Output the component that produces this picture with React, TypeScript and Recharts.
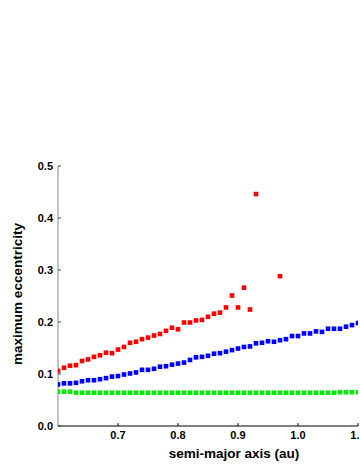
import React from 'react';
import { ScatterChart, Scatter, XAxis, YAxis } from 'recharts';

const axisA: number[] = [
  0.60, 0.61, 0.62, 0.63, 0.64, 0.65, 0.66, 0.67, 0.68, 0.69,
  0.70, 0.71, 0.72, 0.73, 0.74, 0.75, 0.76, 0.77, 0.78, 0.79,
  0.80, 0.81, 0.82, 0.83, 0.84, 0.85, 0.86, 0.87, 0.88, 0.89,
  0.90, 0.91, 0.92, 0.93, 0.94, 0.95, 0.96, 0.97, 0.98, 0.99,
  1.00, 1.01, 1.02, 1.03, 1.04, 1.05, 1.06, 1.07, 1.08, 1.09, 1.10,
];

const redA: number[] = [
  0.60, 0.61, 0.62, 0.63, 0.64, 0.65, 0.66, 0.67, 0.68, 0.69,
  0.70, 0.71, 0.72, 0.73, 0.74, 0.75, 0.76, 0.77, 0.78, 0.79,
  0.80, 0.81, 0.82, 0.83, 0.84, 0.85, 0.86, 0.87, 0.88, 0.89,
  0.90, 0.91, 0.92, 0.93, 0.97,
];
const redE: number[] = [
  0.106, 0.112, 0.116, 0.117, 0.125, 0.128, 0.133, 0.136, 0.141, 0.140,
  0.147, 0.152, 0.160, 0.162, 0.167, 0.170, 0.174, 0.177, 0.183, 0.189,
  0.186, 0.199, 0.199, 0.203, 0.204, 0.210, 0.216, 0.218, 0.228, 0.251,
  0.228, 0.266, 0.224, 0.446, 0.288,
];

const blueE: number[] = [
  0.080, 0.082, 0.082, 0.083, 0.086, 0.088, 0.088, 0.090, 0.092, 0.095,
  0.096, 0.099, 0.101, 0.103, 0.108, 0.108, 0.110, 0.114, 0.115, 0.118,
  0.120, 0.122, 0.127, 0.132, 0.133, 0.135, 0.139, 0.140, 0.143, 0.146,
  0.149, 0.152, 0.153, 0.159, 0.160, 0.163, 0.162, 0.165, 0.167, 0.173,
  0.173, 0.178, 0.178, 0.182, 0.181, 0.187, 0.187, 0.187, 0.191, 0.194, 0.198,
];

const greenE: number[] = [
  0.066, 0.066, 0.066, 0.064, 0.064, 0.064, 0.064, 0.064, 0.064, 0.064,
  0.064, 0.064, 0.064, 0.064, 0.064, 0.064, 0.064, 0.064, 0.064, 0.064,
  0.064, 0.064, 0.064, 0.064, 0.064, 0.064, 0.064, 0.064, 0.064, 0.064,
  0.064, 0.064, 0.064, 0.064, 0.064, 0.064, 0.064, 0.064, 0.064, 0.064,
  0.064, 0.064, 0.064, 0.064, 0.064, 0.064, 0.064, 0.065, 0.065, 0.065, 0.065,
];

const xTicks: number[] = [0.7, 0.8, 0.9, 1.0, 1.1];
const yTicks: number[] = [0.0, 0.1, 0.2, 0.3, 0.4, 0.5];

const redData = redA.map((a, i) => ({ a, e: redE[i] }));
const blueData = axisA.map((a, i) => ({ a, e: blueE[i] }));
const greenData = axisA.map((a, i) => ({ a, e: greenE[i] }));

const FONT = '"Liberation Sans", Arial, sans-serif';

const square = (color: string) => (props: any) => {
  const { cx, cy } = props;
  if (cx == null || cy == null) return <g />;
  const s = 4.6;
  return <rect x={cx - s / 2} y={cy - s / 2} width={s} height={s} fill={color} />;
};

const tickStyle = { fontSize: 11, fontWeight: 'bold' as const, fill: '#000', fontFamily: FONT };

export default function App() {
  return (
    <div style={{ position: 'absolute', left: 0, top: 0, width: 360, height: 466, overflow: 'hidden', background: '#fff' }}>
      <ScatterChart
        width={380}
        height={466}
        margin={{ top: 166, right: 22, bottom: 0, left: 0 }}
      >
        <XAxis
          xAxisId="top"
          orientation="top"
          type="number"
          dataKey="a"
          domain={[0.6, 1.1]}
          ticks={xTicks}
          height={0}
          tick={false}
          tickSize={-3}
          axisLine={{ stroke: '#222', strokeWidth: 1 }}
          tickLine={{ stroke: '#222' }}
          allowDataOverflow
        />
        <XAxis
          xAxisId="x"
          type="number"
          dataKey="a"
          domain={[0.6, 1.1]}
          ticks={xTicks}
          height={40}
          tickSize={-3}
          tickMargin={8}
          tick={tickStyle}
          tickFormatter={(v: number) => v.toFixed(1)}
          axisLine={{ stroke: '#000', strokeWidth: 1 }}
          tickLine={{ stroke: '#000' }}
          allowDataOverflow
          label={{
            content: () => (
              <text x={234} y={458} textAnchor="middle" fontSize={13.5} fontWeight="bold" fontFamily={FONT} fill="#000">
                semi-major axis (au)
              </text>
            ),
          }}
        />
        <YAxis
          yAxisId="y"
          type="number"
          dataKey="e"
          domain={[0, 0.5]}
          ticks={yTicks}
          width={58}
          tickSize={-3}
          tickMargin={8}
          tick={tickStyle}
          tickFormatter={(v: number) => v.toFixed(1)}
          axisLine={{ stroke: '#888', strokeWidth: 1 }}
          tickLine={{ stroke: '#444' }}
          allowDataOverflow
          label={{
            content: () => (
              <text
                x={22}
                y={294}
                transform="rotate(-90 22 294)"
                textAnchor="middle"
                fontSize={13.5}
                fontWeight="bold"
                fontFamily={FONT}
                fill="#000"
              >
                maximum eccentricity
              </text>
            ),
          }}
        />
        <YAxis
          yAxisId="r"
          orientation="right"
          type="number"
          dataKey="e"
          domain={[0, 0.5]}
          ticks={yTicks}
          width={0}
          tick={false}
          tickSize={-3}
          axisLine={{ stroke: '#999', strokeWidth: 1 }}
          tickLine={{ stroke: '#999' }}
          allowDataOverflow
        />
        <Scatter xAxisId="x" yAxisId="y" data={greenData} shape={square('#00ee00')} isAnimationActive={false} />
        <Scatter xAxisId="x" yAxisId="y" data={blueData} shape={square('#0000ff')} isAnimationActive={false} />
        <Scatter xAxisId="x" yAxisId="y" data={redData} shape={square('#ff0000')} isAnimationActive={false} />
      </ScatterChart>
    </div>
  );
}
